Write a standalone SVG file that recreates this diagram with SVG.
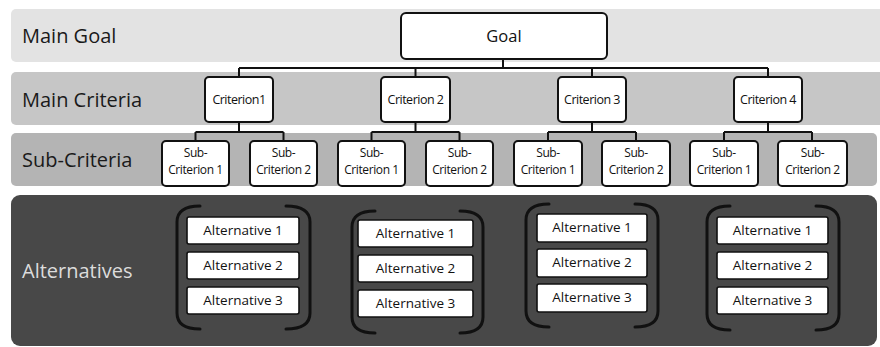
<svg xmlns="http://www.w3.org/2000/svg" width="880" height="347" viewBox="0 0 880 347">
<style>
.band-label{font-family:"Open Sans","Noto Sans",sans-serif;font-size:20px;fill:#1a1a1a}
.box{fill:#ffffff;stroke:#111;stroke-width:2}
.alt{fill:#ffffff;stroke:#111;stroke-width:1.6}
.t{font-family:"Open Sans","Noto Sans",sans-serif;fill:#111;text-anchor:middle}
.crit{font-size:12.5px;letter-spacing:-0.5px}
.sub{font-size:12px;letter-spacing:-0.4px}
.altt{font-size:13.5px}
.conn{fill:none;stroke:#111;stroke-width:2}
.br{fill:none;stroke:#111;stroke-width:3;stroke-linecap:round}
</style>
<rect width="880" height="347" fill="#ffffff"/>
<g id="bands">
<rect x="11" y="9" width="880" height="53" rx="5" fill="#e3e3e3"/>
<rect x="11" y="72" width="880" height="53" rx="5" fill="#c6c6c6"/>
<rect x="11" y="133" width="866" height="53" rx="5" fill="#b4b4b4"/>
<rect x="11" y="195" width="866" height="151" rx="9" fill="#484848"/>
<text class="band-label" x="22" y="43">Main Goal</text>
<text class="band-label" x="22" y="107">Main Criteria</text>
<text class="band-label" x="22" y="167">Sub-Criteria</text>
<text class="band-label" x="22" y="278" style="fill:#dcdcdc">Alternatives</text>
</g>
<g id="connectors">
<path class="conn" d="M503 59V68M239 68H768M239 68V77M415.5 68V77M592 68V77M768 68V77"/>
<path class="conn" d="M239 122V132M195.5 132H283.5M195.5 132V141M283.5 132V141"/>
<path class="conn" d="M415.5 122V132M371.5 132H459.5M371.5 132V141M459.5 132V141"/>
<path class="conn" d="M592 122V132M548 132H636M548 132V141M636 132V141"/>
<path class="conn" d="M768 122V132M724 132H812M724 132V141M812 132V141"/>
</g>
<g id="goal"><rect class="box" x="401" y="13" width="206" height="46" rx="5"/><text class="t" x="504" y="42" font-size="16.5">Goal</text></g>
<g id="criterion1"><rect class="box" x="205" y="77" width="68" height="45" rx="4"/><text class="t crit" x="239" y="104">Criterion1</text></g>
<g id="criterion2"><rect class="box" x="381" y="77" width="69" height="45" rx="4"/><text class="t crit" x="415.5" y="104">Criterion 2</text></g>
<g id="criterion3"><rect class="box" x="558" y="77" width="68" height="45" rx="4"/><text class="t crit" x="592" y="104">Criterion 3</text></g>
<g id="criterion4"><rect class="box" x="734" y="77" width="68" height="45" rx="4"/><text class="t crit" x="768" y="104">Criterion 4</text></g>
<g id="sub1-1"><rect class="box" x="162" y="141" width="67" height="45" rx="4"/><text class="t sub" x="195.5" y="157">Sub-</text><text class="t sub" x="195.5" y="174">Criterion 1</text></g>
<g id="sub1-2"><rect class="box" x="250" y="141" width="67" height="45" rx="4"/><text class="t sub" x="283.5" y="157">Sub-</text><text class="t sub" x="283.5" y="174">Criterion 2</text></g>
<g id="sub2-1"><rect class="box" x="338" y="141" width="67" height="45" rx="4"/><text class="t sub" x="371.5" y="157">Sub-</text><text class="t sub" x="371.5" y="174">Criterion 1</text></g>
<g id="sub2-2"><rect class="box" x="426" y="141" width="67" height="45" rx="4"/><text class="t sub" x="459.5" y="157">Sub-</text><text class="t sub" x="459.5" y="174">Criterion 2</text></g>
<g id="sub3-1"><rect class="box" x="514" y="141" width="68" height="45" rx="4"/><text class="t sub" x="548" y="157">Sub-</text><text class="t sub" x="548" y="174">Criterion 1</text></g>
<g id="sub3-2"><rect class="box" x="602" y="141" width="68" height="45" rx="4"/><text class="t sub" x="636" y="157">Sub-</text><text class="t sub" x="636" y="174">Criterion 2</text></g>
<g id="sub4-1"><rect class="box" x="690" y="141" width="68" height="45" rx="4"/><text class="t sub" x="724" y="157">Sub-</text><text class="t sub" x="724" y="174">Criterion 1</text></g>
<g id="sub4-2"><rect class="box" x="778" y="141" width="69" height="45" rx="4"/><text class="t sub" x="812.5" y="157">Sub-</text><text class="t sub" x="812.5" y="174">Criterion 2</text></g>
<g id="alternatives1">
<path class="br" d="M200 206Q177 206 177 222V313Q177 329 200 329"/>
<path class="br" d="M286 206Q310 206 310 222V313Q310 329 286 329"/>
<rect class="alt" x="187" y="217" width="112" height="27" rx="2"/><text class="t altt" x="243" y="235">Alternative 1</text>
<rect class="alt" x="187" y="252" width="112" height="27" rx="2"/><text class="t altt" x="243" y="270">Alternative 2</text>
<rect class="alt" x="187" y="287" width="112" height="27" rx="2"/><text class="t altt" x="243" y="305">Alternative 3</text>
</g>
<g id="alternatives2">
<path class="br" d="M375 211Q352 211 352 227V317Q352 333 375 333"/>
<path class="br" d="M460 211Q483 211 483 227V317Q483 333 460 333"/>
<rect class="alt" x="358" y="220" width="115" height="27" rx="2"/><text class="t altt" x="415.5" y="238">Alternative 1</text>
<rect class="alt" x="358" y="255" width="115" height="27" rx="2"/><text class="t altt" x="415.5" y="273">Alternative 2</text>
<rect class="alt" x="358" y="290" width="115" height="27" rx="2"/><text class="t altt" x="415.5" y="308">Alternative 3</text>
</g>
<g id="alternatives3">
<path class="br" d="M549 204Q526 204 526 220V311Q526 327 549 327"/>
<path class="br" d="M635 204Q658 204 658 220V311Q658 327 635 327"/>
<rect class="alt" x="537" y="214" width="110" height="28" rx="2"/><text class="t altt" x="592" y="232">Alternative 1</text>
<rect class="alt" x="537" y="249" width="110" height="28" rx="2"/><text class="t altt" x="592" y="267">Alternative 2</text>
<rect class="alt" x="537" y="284" width="110" height="28" rx="2"/><text class="t altt" x="592" y="302">Alternative 3</text>
</g>
<g id="alternatives4">
<path class="br" d="M730 206Q707 206 707 222V314Q707 330 730 330"/>
<path class="br" d="M816 206Q839 206 839 222V314Q839 330 816 330"/>
<rect class="alt" x="717" y="217" width="111" height="27" rx="2"/><text class="t altt" x="772.5" y="235">Alternative 1</text>
<rect class="alt" x="717" y="252" width="111" height="27" rx="2"/><text class="t altt" x="772.5" y="270">Alternative 2</text>
<rect class="alt" x="717" y="287" width="111" height="27" rx="2"/><text class="t altt" x="772.5" y="305">Alternative 3</text>
</g>
</svg>
